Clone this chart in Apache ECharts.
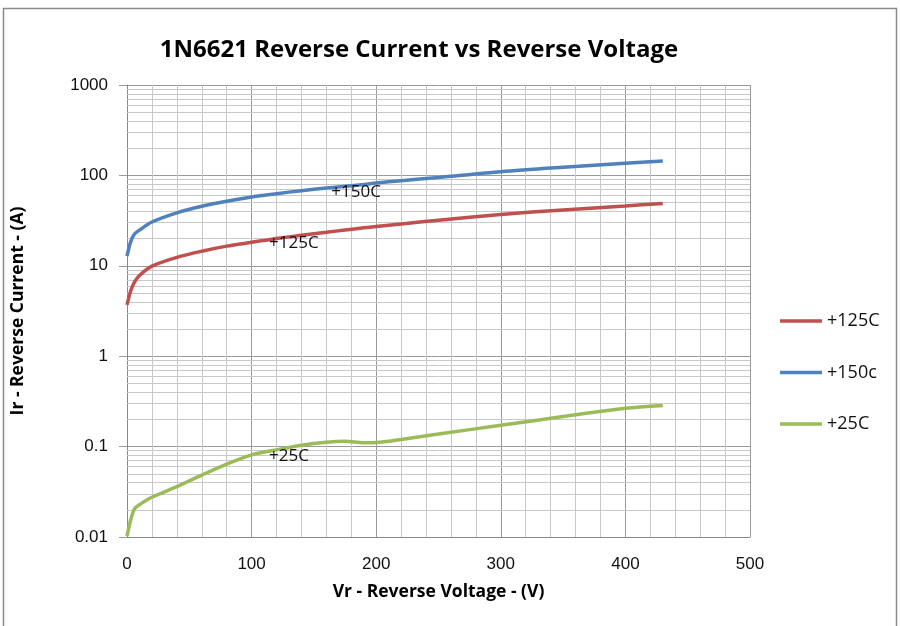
<!DOCTYPE html>
<html>
<head>
<meta charset="utf-8">
<script src="https://cdn.jsdelivr.net/npm/echarts@6/dist/echarts.min.js"></script>
<style>
html,body{margin:0;padding:0;background:#fff;}
#c{width:900px;height:626px;}
</style>
</head>
<body>
<div id="c"></div>
<script>
// Reverse voltage (V)
var vr = [0, 3, 6, 10, 20, 40, 60, 80, 100, 110, 120, 140, 160, 175, 190, 200, 220, 250, 300, 350, 400, 430];
// Reverse current (A)
var ir125 = [3.7, 5.3, 6.6, 7.8, 9.9, 12.4, 14.5, 16.5, 18.2, 19.1, 20, 21.8, 23.5, 24.9, 26.3, 27.2, 29, 32, 37, 41.5, 46, 49];
var ir150 = [12.8, 18.5, 22.5, 24.8, 30.5, 38.5, 45.5, 51.7, 57.7, 60.3, 62.8, 67.8, 72.4, 75.8, 79.3, 82.2, 87.5, 95, 110, 123, 136, 144];
var ir25  = [0.0102, 0.0155, 0.0205, 0.0228, 0.0275, 0.036, 0.0484, 0.064, 0.081, 0.087, 0.092, 0.1035, 0.1117, 0.1145, 0.110, 0.1107, 0.12, 0.138, 0.172, 0.215, 0.265, 0.285];
var seriesNames = ['+125C', '+150c', '+25C'];
var labelTexts = ['+125C', '+150C', '+25C'];
var labelIdx = [9, 12, 9];
var labelDy = [2.5, 4, 4.5];
var decades = [0.01, 0.1, 1, 10, 100];

function pairs(ys){ return vr.map(function(v,i){ return [v, ys[i]]; }); }

var minorY = [];
decades.forEach(function(d){ for (var k=2;k<=9;k++) minorY.push({yAxis: +(d*k).toPrecision(3)}); });

var colors = ['#C0504D', '#4F81BD', '#9BBB59'];
var dataSets = [ir125, ir150, ir25];
var FONT = 'Open Sans';

var series = dataSets.map(function(ys, s){
  var o = {
    name: seriesNames[s],
    type: 'line',
    data: pairs(ys),
    smooth: 0.3,
    symbol: 'none',
    lineStyle: {width: 3.5, color: colors[s]},
    itemStyle: {color: colors[s]},
    z: 5,
    markPoint: {
      symbol: 'circle', symbolSize: 0, silent: true, z: 20,
      label: {show: true, position: 'right', distance: 5, offset: [0, labelDy[s]], formatter: labelTexts[s], color: '#111', fontSize: 17, fontFamily: FONT},
      data: [{coord: [vr[labelIdx[s]], ys[labelIdx[s]]]}]
    }
  };
  if (s === 0) {
    o.markLine = {
      silent: true, symbol: ['none','none'], label: {show: false},
      lineStyle: {color: '#c8c8c8', width: 1, type: 'solid'},
      z: 1,
      data: minorY
    };
  }
  return o;
});

var chart = echarts.init(document.getElementById('c'), null, {renderer: 'canvas'});
chart.setOption({
  animation: false,
  backgroundColor: '#fff',
  title: {
    text: '1N6621 Reverse Current vs Reverse Voltage',
    left: 414, top: 33, textAlign: 'center',
    textStyle: {fontSize: 24, fontWeight: 'bold', color: '#000', fontFamily: FONT}
  },
  graphic: [{type: 'rect', shape: {x: 3.5, y: 8.5, width: 893, height: 640}, style: {fill: 'none', stroke: '#8a8a8a', lineWidth: 1.5}, silent: true}],
  grid: {left: 127, right: 150, top: 85, bottom: 89},
  legend: {
    orient: 'vertical', left: 775, top: 306, itemGap: 31.5, itemWidth: 42, itemHeight: 3.5,
    icon: 'rect',
    data: seriesNames,
    textStyle: {fontSize: 18, lineHeight: 20, color: '#111', fontFamily: FONT}
  },
  xAxis: {
    type: 'value', min: 0, max: 500, interval: 100,
    name: 'Vr - Reverse Voltage - (V)', nameLocation: 'middle', nameGap: 46,
    nameTextStyle: {fontSize: 17.5, fontWeight: 'bold', color: '#000', fontFamily: FONT},
    axisLine: {show: true, lineStyle: {color: '#888', width: 1}},
    axisTick: {show: false},
    axisLabel: {fontSize: 17, color: '#111', margin: 19, fontFamily: 'Liberation Sans'},
    splitLine: {show: true, lineStyle: {color: '#9a9a9a', width: 1}},
    minorTick: {show: false, splitNumber: 5},
    minorSplitLine: {show: true, lineStyle: {color: '#c8c8c8', width: 1}}
  },
  yAxis: {
    type: 'log', logBase: 10, min: 0.01, max: 1000,
    name: 'Ir - Reverse Current - (A)', nameLocation: 'middle', nameGap: 100,
    nameTextStyle: {fontSize: 17.5, fontWeight: 'bold', color: '#000', fontFamily: FONT},
    axisLine: {show: true, lineStyle: {color: '#888', width: 1}},
    axisTick: {show: true, length: 8, lineStyle: {color: '#9a9a9a'}},
    axisLabel: {fontSize: 17, color: '#111', margin: 19, fontFamily: 'Liberation Sans',
      formatter: function(v){ return String(+v.toPrecision(3)); }},
    splitLine: {show: true, lineStyle: {color: '#9a9a9a', width: 1}}
  },
  series: series
});
</script>
</body>
</html>
